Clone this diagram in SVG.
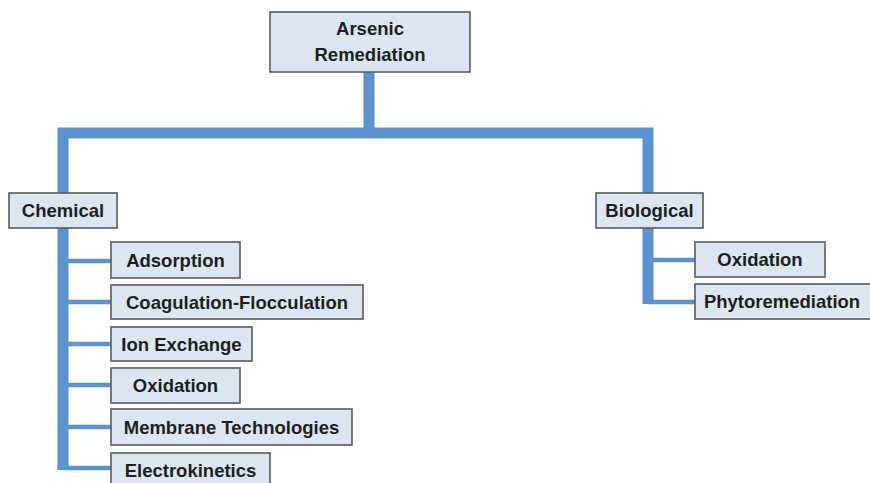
<svg xmlns="http://www.w3.org/2000/svg" width="870" height="483" viewBox="0 0 870 483">
  <style>
    .box { fill: #dce6f2; stroke: #5a5a5a; stroke-width: 1.6; }
    .lbl { font-family: "Liberation Sans", Arial, sans-serif; font-weight: bold; font-size: 18.5px; fill: #1e1e1e; text-anchor: middle; }
    .trunk { fill: none; stroke: #5b93cf; stroke-width: 11; stroke-linejoin: miter; }
    .twig { fill: none; stroke: #5b93cf; stroke-width: 4.5; }
  </style>
  <rect width="870" height="483" fill="#ffffff"/>

  <g id="connectors">
    <!-- main tree: root stem, crossbar and the two category trunks -->
    <path class="trunk" d="M369 72 V133"/>
    <path class="trunk" d="M63 200 V133 H648 V200"/>
    <!-- chemical trunk -->
    <path class="trunk" d="M63 228 V468"/>
    <path class="twig" d="M63 261 H111 M63 302 H111 M63 344 H111 M63 385 H111 M63 427 H111"/>
    <path class="twig" d="M63 468 H111"/>
    <path class="trunk" d="M63 465 V470" stroke-width="11"/>
    <!-- biological trunk -->
    <path class="trunk" d="M648 228 V304"/>
    <path class="twig" d="M648 260 H695 M648 302 H695"/>
  </g>

  <g id="root">
    <rect class="box" x="270" y="12" width="200" height="60"/>
    <text class="lbl" x="370" y="35">Arsenic</text>
    <text class="lbl" x="370" y="61">Remediation</text>
  </g>

  <g id="chemical">
    <rect class="box" x="9" y="193" width="108" height="35"/>
    <text class="lbl" x="63" y="217">Chemical</text>
  </g>

  <g id="biological">
    <rect class="box" x="596" y="193" width="107" height="35"/>
    <text class="lbl" x="649.5" y="217">Biological</text>
  </g>

  <g id="adsorption">
    <rect class="box" x="111" y="242" width="129" height="36"/>
    <text class="lbl" x="175.5" y="266.5">Adsorption</text>
  </g>

  <g id="coagulation-flocculation">
    <rect class="box" x="111" y="285" width="252" height="34"/>
    <text class="lbl" x="237" y="308.5">Coagulation-Flocculation</text>
  </g>

  <g id="ion-exchange">
    <rect class="box" x="111" y="327" width="141" height="34"/>
    <text class="lbl" x="181.5" y="350.5">Ion Exchange</text>
  </g>

  <g id="chem-oxidation">
    <rect class="box" x="111" y="368" width="129" height="35"/>
    <text class="lbl" x="175.5" y="392">Oxidation</text>
  </g>

  <g id="membrane-technologies">
    <rect class="box" x="111" y="409" width="241" height="36"/>
    <text class="lbl" x="231.5" y="433.5">Membrane Technologies</text>
  </g>

  <g id="electrokinetics">
    <rect class="box" x="111" y="453" width="159" height="40"/>
    <text class="lbl" x="190.5" y="477">Electrokinetics</text>
  </g>

  <g id="bio-oxidation">
    <rect class="box" x="695" y="242" width="130" height="35"/>
    <text class="lbl" x="760" y="266">Oxidation</text>
  </g>

  <g id="phytoremediation">
    <rect class="box" x="695" y="284" width="178" height="35"/>
    <text class="lbl" x="782" y="308">Phytoremediation</text>
  </g>
</svg>
